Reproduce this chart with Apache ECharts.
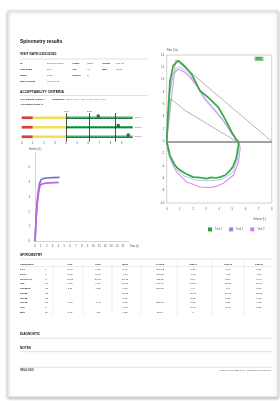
<!DOCTYPE html>
<html>
<head>
<meta charset="utf-8">
<script src="https://cdn.jsdelivr.net/npm/echarts@6/dist/echarts.min.js"></script>
<style>
html, body { margin: 0; padding: 0; background: #fff; }
#chart { width: 280px; height: 401px; }
</style>
</head>
<body>
<div id="chart"></div>
<script>
// ---- data ----
const trialNames = ['Trial 1', 'Trial 2', 'Trial 3'];
const trialColors = ['#2f9e3e', '#8f86e6', '#d27ded'];

// flow-volume loops: [volume L, flow L/s]
const fvTrial1 = [[0,0],[0.1,4.5],[0.25,9.8],[0.5,12.3],[0.89,13.1],[1.27,12.4],[1.9,10.9],[2.16,9.8],[2.54,8.2],[3.18,7.1],[3.94,5.5],[4.45,3.6],[4.96,1.5],[5.29,0.3],[5.45,0],
  [5.47,-0.6],[5.29,-2.8],[5.05,-4.1],[4.83,-4.7],[4.45,-5.5],[4.07,-5.8],[3.7,-5.95],[3.4,-5.85],[3.05,-6.05],[2.6,-5.9],[2.03,-5.8],[1.6,-5.4],[1.27,-5.0],[0.9,-4.5],[0.63,-3.9],[0.25,-2.3],[0,0]];
const fvTrial2 = [[0,0],[0.2,7.5],[0.5,11.2],[0.9,12.1],[1.3,11.7],[1.8,10.6],[2.3,9.2],[2.8,7.4],[3.5,5.6],[4.3,3.5],[5.0,1.3],[5.45,0],
  [5.5,-1.0],[5.4,-3.0],[5.0,-5.1],[4.2,-6.2],[3.2,-6.4],[2.2,-6.3],[1.3,-5.6],[0.6,-4.3],[0.2,-2.6],[0,0]];
const fvTrial3 = [[0,0],[0.2,7.0],[0.45,10.8],[0.89,11.7],[1.3,11.3],[1.78,10.4],[2.29,9.0],[2.8,7.1],[3.56,5.2],[4.32,3.3],[4.96,1.2],[5.4,0],
  [5.55,-0.5],[5.6,-1.2],[5.47,-3.3],[5.08,-5.5],[4.32,-6.8],[3.8,-7.3],[3.3,-7.5],[2.54,-7.4],[1.53,-6.6],[0.76,-5.0],[0.38,-3.4],[0.1,-1.6],[0,0]];
const fvPredOuter = [[0,0],[0.7,13.2],[8,0]];
const fvPredInner = [[0,0],[0.3,6.9],[1.4,5.0],[5.3,0]];

// volume-time: [time s, volume L]
const vtTrial2 = [[0,0],[0.1,0.8],[0.22,1.8],[0.4,2.8],[0.6,3.5],[0.8,3.95],[1.07,4.2],[1.5,4.27],[2,4.3],[3,4.33],[4.2,4.35]];
const vtTrial3 = [[0,0],[0.1,0.75],[0.22,1.7],[0.4,2.6],[0.6,3.3],[0.8,3.7],[0.97,3.85],[1.5,3.93],[2.5,3.97],[4.05,4.0]];

// acceptability criteria bars
const acceptRows = ['Trial 1', 'Trial 2', 'Trial 3'];
const acceptRed = [1, 1, 1];
const acceptYellow = [3, 3, 3];
const acceptGreen = [6, 6, 6];
const acceptMarks = [6.9, 8.7, 9.6];
const acceptLines = [4, 6.1, 8.4];
const acceptLineLabels = ['Limit', 'Best', ''];
const acceptTicks = [0, 1, 2, 3, 4, 5, 6, 7, 8, 9];

// patient info
const infoLabels = [['ID', 'Origin', 'Height'], ['Last name', 'Age', 'BMI'], ['Name', 'Gender', ''], ['Date of Birth', '', '']];
const infoValues = [['DummyPerson', 'Other', '180 cm'], ['Doe', '45', '23.88'], ['John', 'M', ''], ['01/01/1975', '', '']];

// spirometry table
const tableHeader = ['LLN', 'Pred', 'Best', '% Pred', 'PRE#1', 'PRE#2', 'PRE#3'];
const tableParams = ['FVC', 'FEV1', 'FEV1/FVC', 'PEF', 'FEF2575', 'FEF25', 'FEF50', 'FEF75', 'FET', 'BEV'];
const tableUnits = ['L', 'L', '%', 'L/s', 'L/s', 'L/s', 'L/s', 'L/s', 's', 'ml'];
const tableLLN = ['5.03', '3.83', '71.23', '3.68', '2.11', '', '', '0.08', '', '5.60'];
const tablePred = ['6.17', '5.06', '80.03', '9.93', '3.72', '', '', '1.43', '', '4.77'];
const tableBest = ['5.69', '4.73', '83.48', '13.10', '6.10', '11.13', '8.65', '3.36', '5.63', '7.55'];
const tablePctPred = ['106.72', '103.83', '113.21', '141.90', '180.80', '', '', '235.07', '', '38.74'];
const tablePre1 = ['5.56', '4.73', '85.4', '13.10', '6.1', '11.13', '8.65', '3.36', '5.63', '1'];
const tablePre2 = ['5.64', '4.61', '83.1', '12.10', '6.3', '11.63', '8.85', '3.56', '5.98', ''];
const tablePre3 = ['5.69', '4.59', '84.3', '11.70', '5.89', '11.38', '8.73', '3.05', '5.58', ''];

const FONT = 'Liberation Sans';

// helpers for page text
const txt = (x, y, s, o = {}) => ({
  type: 'text', x: x, y: y, silent: true,
  style: {
    text: s, fontSize: o.size || 2.6, fontWeight: o.bold ? 'bold' : 'normal',
    fill: o.color || '#222', align: o.align || 'left', verticalAlign: 'middle', fontFamily: FONT
  }
});
const hline = (x1, y, x2, color) => ({
  type: 'line', silent: true, shape: { x1: x1, y1: y, x2: x2, y2: y },
  style: { stroke: color || '#cfcfcf', lineWidth: 0.6 }
});
const vline = (x, y1, y2) => ({
  type: 'line', silent: true, shape: { x1: x, y1: y1, x2: x, y2: y2 },
  style: { stroke: '#dedede', lineWidth: 0.5 }
});

const graphics = [];
// page sheet
graphics.push({
  type: 'rect', silent: true, z: -10,
  shape: { x: 8, y: 11, width: 270, height: 386 },
  style: { fill: '#fff', stroke: '#e0e0e0', lineWidth: 1, shadowBlur: 3, shadowOffsetY: 1, shadowColor: 'rgba(0,0,0,0.3)' }
});
graphics.push(txt(20, 41.5, 'Spirometry results', { size: 4.8, bold: true, color: '#111' }));
graphics.push(txt(20, 54.5, 'VISIT DATE 03/01/2020', { size: 3.4, bold: true, color: '#111' }));
graphics.push(hline(20, 59, 148));

const infoLabelX = [20, 72, 102];
const infoValueX = [47, 87, 116];
infoLabels.forEach((row, i) => {
  const y = 63.5 + i * 6;
  row.forEach((lab, j) => {
    if (lab) graphics.push(txt(infoLabelX[j], y, lab, { size: 2.5, bold: true, color: '#222' }));
    if (infoValues[i][j]) graphics.push(txt(infoValueX[j], y, infoValues[i][j], { size: 2.5, color: '#555' }));
  });
});

graphics.push(txt(20, 91.7, 'ACCEPTABILITY CRITERIA', { size: 3.4, bold: true, color: '#111' }));
graphics.push(hline(20, 95.5, 148));
graphics.push(txt(20, 99.3, 'FVC Quality Grade: A', { size: 2.5, bold: true }));
graphics.push(txt(52, 99.3, 'Variability:', { size: 2.5, bold: true }));
graphics.push(txt(66, 99.3, 'FEV1 0.14 L (3%), FVC 0.13 L (2%)', { size: 2.5, color: '#666' }));
graphics.push(txt(20, 104, 'Acceptable trials: 3', { size: 2.5, bold: true }));

// FVC badge on flow-volume chart
graphics.push({
  type: 'rect', silent: true, shape: { x: 254.5, y: 56.6, width: 9, height: 4.4 },
  style: { fill: '#86cc86' }
});
graphics.push(txt(259, 58.9, 'FVC', { size: 2.6, bold: true, color: '#1d6b22', align: 'center' }));
graphics.push(txt(266, 219.3, 'Volume (L)', { size: 2.7, color: '#555', align: 'right' }));

// spirometry table
graphics.push(txt(20, 255, 'SPIROMETRY', { size: 3.4, bold: true, color: '#111' }));
graphics.push(hline(20, 259, 272));
const colX = [70, 98, 125, 160, 193, 228, 259];
const colSep = [53, 83, 112, 141, 177, 212, 244];
colSep.forEach(x => graphics.push(vline(x, 261.5, 315)));
graphics.push(txt(20, 264.2, 'Parameters', { size: 2.5, bold: true }));
tableHeader.forEach((h, j) => graphics.push(txt(colX[j], 264.2, h, { size: 2.5, bold: true, align: 'center' })));
graphics.push(hline(20, 266.6, 272, '#dedede'));
const tableCols = [tableLLN, tablePred, tableBest, tablePctPred, tablePre1, tablePre2, tablePre3];
tableParams.forEach((p, i) => {
  const y = 269.5 + i * 4.75;
  graphics.push(txt(20, y, p, { size: 2.5, bold: true }));
  graphics.push(txt(45, y, tableUnits[i], { size: 2.5, color: '#333' }));
  tableCols.forEach((col, j) => {
    if (col[i]) graphics.push(txt(colX[j], y, col[i], { size: 2.5, color: '#333', align: 'center' }));
  });
});

graphics.push(txt(20, 334, 'DIAGNOSTIC', { size: 3.2, bold: true, color: '#111' }));
graphics.push(hline(20, 338.3, 272));
graphics.push(txt(20, 347.7, 'NOTES', { size: 3.2, bold: true, color: '#111' }));
graphics.push(hline(20, 351.7, 272));
graphics.push(hline(20, 367.3, 272));
graphics.push(txt(20, 370.6, 'URL/LOGO', { size: 2.6, bold: true, color: '#333' }));
graphics.push(txt(271, 370.6, 'Printed on 03/01/2020 10:00 - www.spirometry-report.com', { size: 2, color: '#555', align: 'right' }));

const axisText = { fontSize: 2.8, color: '#555', fontFamily: FONT };

const chart = echarts.init(document.getElementById('chart'), null, { renderer: 'canvas' });

const acceptAxisRows = acceptRows.slice().reverse();

const option = {
  animation: false,
  backgroundColor: '#fff',
  textStyle: { fontFamily: FONT },
  graphic: graphics,
  legend: {
    data: trialNames,
    left: 208, top: 227.4,
    icon: 'rect', itemWidth: 4, itemHeight: 4, itemGap: 7,
    padding: 0,
    textStyle: { fontSize: 2.6, color: '#555', padding: [0, 0, 0, -2] }
  },
  grid: [
    { left: 21.7, width: 111, top: 113, height: 28.5, outerBoundsMode: 'none' },
    { left: 35, width: 93.6, top: 153, height: 88.3, outerBoundsMode: 'none' },
    { left: 166.7, width: 105, top: 55, height: 148, show: true, borderColor: '#bdbdbd', borderWidth: 0.7, outerBoundsMode: 'none' }
  ],
  xAxis: [
    {
      gridIndex: 0, type: 'value', min: 0, max: 10, interval: 1,
      axisLine: { show: false }, axisTick: { show: false }, splitLine: { show: false },
      axisLabel: Object.assign({ margin: 0.6, showMaxLabel: false,
        formatter: v => acceptTicks.includes(v) ? String(v) : '' }, axisText)
    },
    {
      gridIndex: 1, type: 'value', min: 0, max: 16, interval: 1,
      name: 'Time (s)', nameLocation: 'end', nameGap: 1,
      nameTextStyle: { fontSize: 2.6, color: '#555', verticalAlign: 'top', padding: [3.3, 0, 0, 0] },
      axisLine: { lineStyle: { color: '#b5b5b5', width: 0.6 } }, axisTick: { show: false }, splitLine: { show: false },
      axisLabel: Object.assign({ margin: 3.5, showMaxLabel: false }, axisText)
    },
    {
      gridIndex: 2, type: 'value', min: 0, max: 8, interval: 1,
      axisLine: { show: false }, axisTick: { show: false }, splitLine: { show: false },
      axisLabel: Object.assign({ margin: 4.5 }, axisText)
    }
  ],
  yAxis: [
    {
      gridIndex: 0, type: 'category', data: acceptAxisRows, position: 'right',
      axisLine: { show: false }, axisTick: { show: false }, splitLine: { show: false },
      axisLabel: { margin: 2, fontSize: 2.4, color: '#555' }
    },
    {
      gridIndex: 1, type: 'value', min: 0, max: 6, interval: 1,
      name: 'Volume (L)', nameLocation: 'end', nameGap: 2,
      nameTextStyle: { fontSize: 2.6, color: '#555', align: 'center' },
      axisLine: { show: true, lineStyle: { color: '#b5b5b5', width: 0.6 } }, axisTick: { show: false }, splitLine: { show: false },
      axisLabel: Object.assign({ margin: 5, showMaxLabel: false }, axisText)
    },
    {
      gridIndex: 2, type: 'value', min: -10, max: 14, interval: 2,
      name: 'Flow (L/s)', nameLocation: 'end', nameGap: 3.5,
      nameTextStyle: { fontSize: 2.6, color: '#555', align: 'left' },
      axisLine: { show: false }, axisTick: { show: false }, splitLine: { show: false },
      axisLabel: Object.assign({ margin: 2.5 }, axisText)
    }
  ],
  series: [
    {
      name: 'Predicted', type: 'line', xAxisIndex: 2, yAxisIndex: 2,
      data: fvPredOuter, showSymbol: false, symbol: 'none', z: 2,
      lineStyle: { color: '#adadad', width: 0.9 },
      markLine: {
        silent: true, symbol: 'none', label: { show: false },
        lineStyle: { color: '#808080', width: 1.6, type: 'solid' },
        data: [{ yAxis: 0 }]
      }
    },
    {
      name: 'Predicted inner', type: 'line', xAxisIndex: 2, yAxisIndex: 2,
      data: fvPredInner, showSymbol: false, symbol: 'none', z: 2,
      lineStyle: { color: '#adadad', width: 0.9 }
    },
    {
      name: trialNames[2], type: 'line', xAxisIndex: 2, yAxisIndex: 2,
      data: fvTrial3, showSymbol: false, symbol: 'none', z: 3,
      itemStyle: { color: trialColors[2] }, lineStyle: { color: '#d990ef', width: 1.1 }
    },
    {
      name: trialNames[1], type: 'line', xAxisIndex: 2, yAxisIndex: 2,
      data: fvTrial2, showSymbol: false, symbol: 'none', z: 3,
      itemStyle: { color: trialColors[1] }, lineStyle: { color: '#a8c0ee', width: 0.9 }
    },
    {
      name: trialNames[0], type: 'line', xAxisIndex: 2, yAxisIndex: 2,
      data: fvTrial1, showSymbol: false, symbol: 'none', z: 4,
      itemStyle: { color: trialColors[0] }, lineStyle: { color: '#36a845', width: 1.7 }
    },
    {
      name: trialNames[1], type: 'line', xAxisIndex: 1, yAxisIndex: 1,
      data: vtTrial2, showSymbol: false, symbol: 'none', z: 3,
      lineStyle: { color: '#7870c4', width: 1.7 }
    },
    {
      name: trialNames[2], type: 'line', xAxisIndex: 1, yAxisIndex: 1,
      data: vtTrial3, showSymbol: false, symbol: 'none', z: 4,
      lineStyle: { color: '#c064de', width: 1.7 }
    },
    {
      name: 'red', type: 'bar', stack: 'acc', xAxisIndex: 0, yAxisIndex: 0,
      barWidth: 2.7, data: acceptRed.slice().reverse(), itemStyle: { color: '#d6413a' },
      markLine: {
        silent: true, symbol: 'none',
        lineStyle: { color: '#222', width: 0.8, type: 'solid' },
        label: { position: 'end', fontSize: 2.3, color: '#555', distance: 0.8 },
        data: acceptLines.map((v, i) => ({
          xAxis: v,
          label: { show: !!acceptLineLabels[i], formatter: acceptLineLabels[i] || ' ' }
        }))
      }
    },
    {
      name: 'yellow', type: 'bar', stack: 'acc', xAxisIndex: 0, yAxisIndex: 0,
      barWidth: 2.7, data: acceptYellow.slice().reverse(), itemStyle: { color: '#f0df55' }
    },
    {
      name: 'green', type: 'bar', stack: 'acc', xAxisIndex: 0, yAxisIndex: 0,
      barWidth: 2.7, data: acceptGreen.slice().reverse(), itemStyle: { color: '#3cb368' },
      markLine: {
        silent: true, symbol: 'none', label: { show: false },
        lineStyle: { color: '#1d6a37', width: 1.1, type: [3, 0.9] },
        data: acceptAxisRows.map(c => [{ coord: [4.1, c] }, { coord: [9.95, c] }])
      }
    },
    {
      name: 'marks', type: 'scatter', xAxisIndex: 0, yAxisIndex: 0,
      symbol: 'rect', symbolSize: 3, symbolOffset: [0, -1.8], z: 5,
      itemStyle: { color: '#1f3320' },
      data: acceptRows.map((r, i) => [acceptMarks[i], r])
    }
  ]
};

chart.setOption(option);
</script>
</body>
</html>
